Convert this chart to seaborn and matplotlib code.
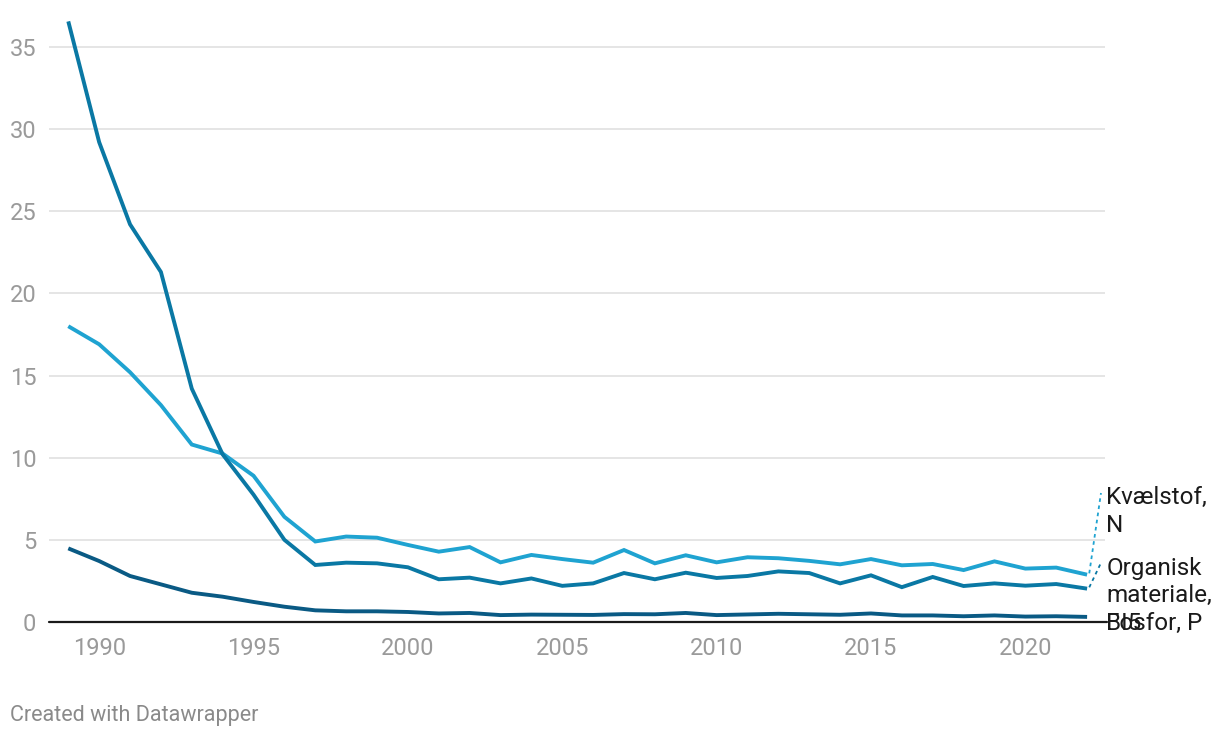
"""
Udledning fra renseanlæg 1989-2022: kvælstof, organisk materiale og fosfor.
"""
import matplotlib.pyplot as plt
import numpy as np
import pandas as pd
import seaborn as sns

years = list(range(1989, 2023))

kvaelstof = [18.0, 16.9, 15.2, 13.2, 10.8, 10.25, 8.9, 6.4, 4.9, 5.2, 5.13, 4.69,
             4.28, 4.56, 3.63, 4.08, 3.83, 3.61, 4.38, 3.57, 4.06, 3.63, 3.94, 3.88,
             3.72, 3.51, 3.83, 3.45, 3.53, 3.16, 3.69, 3.25, 3.31, 2.88]
organisk = [36.55, 29.2, 24.2, 21.3, 14.2, 10.2, 7.75, 5.0, 3.47, 3.61, 3.57, 3.33,
            2.6, 2.7, 2.35, 2.65, 2.2, 2.35, 2.98, 2.6, 3.0, 2.68, 2.8, 3.08,
            2.98, 2.35, 2.84, 2.12, 2.74, 2.19, 2.35, 2.21, 2.31, 2.03]
fosfor = [4.48, 3.71, 2.8, 2.29, 1.78, 1.54, 1.22, 0.93, 0.71, 0.65, 0.65, 0.61,
          0.52, 0.55, 0.42, 0.45, 0.44, 0.43, 0.48, 0.47, 0.55, 0.42, 0.46, 0.5,
          0.47, 0.44, 0.52, 0.4, 0.4, 0.35, 0.4, 0.33, 0.35, 0.31]

series_names = ["Kvælstof, N", "Organisk materiale, BI5", "Fosfor, P"]
label_texts = ["Kvælstof,\nN", "Organisk\nmateriale,\nBI5", "Fosfor, P"]
colors = ["#1fa3d1", "#0a78a4", "#0a5a84"]

y_ticks = [0, 5, 10, 15, 20, 25, 30, 35]
x_ticks = [1990, 1995, 2000, 2005, 2010, 2015, 2020]

df = pd.DataFrame({
    "year": years * 3,
    "value": kvaelstof + organisk + fosfor,
    "series": np.repeat(series_names, len(years)),
})

sns.set_theme(style="white")
plt.rcParams["font.family"] = ["Roboto", "DejaVu Sans"]

fig = plt.figure(figsize=(12.2, 7.38), dpi=100)
ax = fig.add_axes([49 / 1220, 116 / 738, (1105 - 49) / 1220, (724 - 116) / 738])

sns.lineplot(data=df, x="year", y="value", hue="series", hue_order=series_names,
             palette=colors, lw=2.8, legend=False, ax=ax,
             solid_capstyle="butt", solid_joinstyle="miter")

ax.set_xlim(1988.375, 2022.58)
ax.set_ylim(0, 37)
ax.set_yticks(y_ticks)
ax.set_xticks(x_ticks)
ax.set_xlabel("")
ax.set_ylabel("")
ax.grid(axis="y", color="#e5e5e5", lw=1.4)
ax.grid(axis="x", visible=False)
ax.set_axisbelow(True)
for side in ["top", "right", "left", "bottom"]:
    ax.spines[side].set_visible(False)
ax.axhline(0, color="#1a1a1a", lw=1.6, xmax=1.002, clip_on=False, zorder=1)
ax.tick_params(axis="both", length=0, labelsize=17, labelcolor="#9a9a9a")
ax.tick_params(axis="y", pad=9)
ax.tick_params(axis="x", pad=11)

# labels at line ends (baseline of the last line), dotted leaders for the top two
label_x = 2022.62
label_base = [5.48, -0.49, -0.49]
leader_top = [7.85, 3.6, None]
end_vals = [kvaelstof[-1], organisk[-1], fosfor[-1]]
for text, base, top, val, col in zip(label_texts, label_base, leader_top, end_vals, colors):
    ax.text(label_x, base, text, ha="left", va="baseline", fontsize=17.5,
            color="#1a1a1a", linespacing=1.26, clip_on=False)
    if top is not None:
        ax.plot([years[-1] + 0.07, label_x - 0.17], [val + 0.08, top],
                color=col, lw=1.3, ls=(0, (2, 2)), clip_on=False)

fig.text(10 / 1220, 1 - 715 / 738, "Created with Datawrapper", fontsize=15.5,
         color="#8a8a8a", ha="left", va="center")

fig.savefig("out.png", dpi=100)
